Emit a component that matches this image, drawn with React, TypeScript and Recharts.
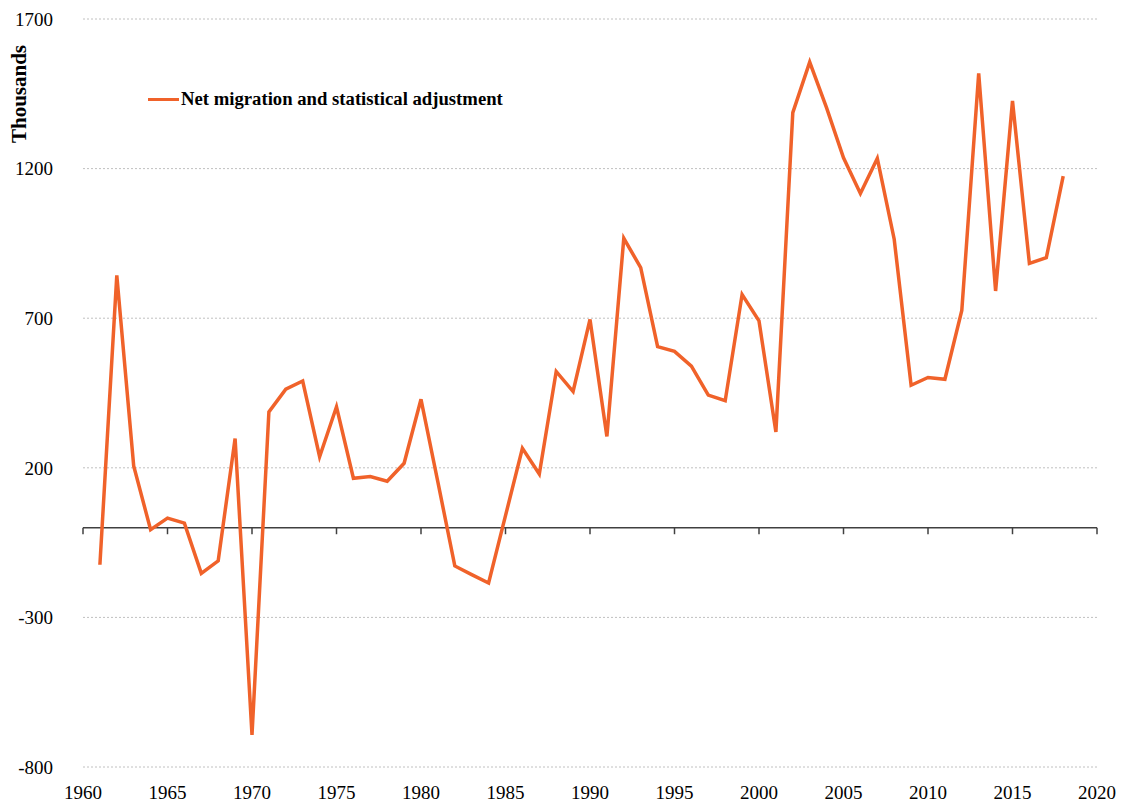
import { LineChart, Line, XAxis, YAxis, CartesianGrid, ReferenceLine } from "recharts";

const years = [
  1961, 1962, 1963, 1964, 1965, 1966, 1967, 1968, 1969, 1970,
  1971, 1972, 1973, 1974, 1975, 1976, 1977, 1978, 1979, 1980,
  1981, 1982, 1983, 1984, 1985, 1986, 1987, 1988, 1989, 1990,
  1991, 1992, 1993, 1994, 1995, 1996, 1997, 1998, 1999, 2000,
  2001, 2002, 2003, 2004, 2005, 2006, 2007, 2008, 2009, 2010,
  2011, 2012, 2013, 2014, 2015, 2016, 2017, 2018,
];

// thousands
const netMigration = [
  -124, 843, 206, -7, 32, 15, -153, -111, 298, -693,
  387, 463, 490, 237, 404, 165, 171, 155, 215, 429,
  152, -128, -157, -185, 40, 265, 179, 522, 455, 696,
  305, 967, 869, 605, 589, 540, 443, 424, 779, 691,
  320, 1387, 1556, 1403, 1236, 1117, 1234, 964, 476, 502,
  496, 726, 1518, 791, 1426, 883, 902, 1175,
];

const xTicks = [1960, 1965, 1970, 1975, 1980, 1985, 1990, 1995, 2000, 2005, 2010, 2015, 2020];
const yTicks = [-800, -300, 200, 700, 1200, 1700];

const seriesName = "Net migration and statistical adjustment";
const orange = "#f0622a";
const font = "'Liberation Serif', 'Times New Roman', serif";

const data = years.map((y, i) => ({ year: y, value: netMigration[i] }));

const App = () => {
  return (
    <div style={{ position: "absolute", left: 0, top: 0, width: 1127, height: 805, background: "#fff" }}>
      <LineChart
        width={1127}
        height={805}
        data={data}
        margin={{ top: 19, right: 30, left: 0, bottom: 8 }}
        style={{ fontFamily: font }}
      >
        <CartesianGrid vertical={false} stroke="#c0c0c0" strokeDasharray="2 2" />
        <XAxis
          dataKey="year"
          type="number"
          domain={[1960, 2020]}
          ticks={xTicks}
          axisLine={false}
          tickLine={false}
          tickMargin={13}
          height={30}
          tick={{ fontSize: 19, fill: "#000" }}
        />
        <YAxis
          domain={[-800, 1700]}
          ticks={yTicks}
          width={83}
          axisLine={false}
          tickLine={false}
          tickMargin={24}
          tick={{ fontSize: 19, fill: "#000" }}
        />
        <ReferenceLine y={0} stroke="#404040" strokeWidth={1.5} />
        {xTicks.map((t) => (
          <ReferenceLine
            key={`tk-${t}`}
            segment={[{ x: t, y: 0 }, { x: t, y: -22 }]}
            stroke="#404040"
            strokeWidth={1.5}
          />
        ))}
        <Line
          type="linear"
          dataKey="value"
          name={seriesName}
          stroke={orange}
          strokeWidth={3.5}
          dot={false}
          isAnimationActive={false}
        />
      </LineChart>
      <div
        style={{
          position: "absolute",
          left: 148,
          top: 88,
          display: "flex",
          alignItems: "center",
          fontFamily: font,
        }}
      >
        <div style={{ width: 31, height: 3, background: orange, marginRight: 2 }} />
        <span style={{ fontSize: 18.7, fontWeight: "bold", color: "#000" }}>{seriesName}</span>
      </div>
      <div
        style={{
          position: "absolute",
          left: 19,
          top: 94,
          transform: "translate(-50%, -50%) rotate(-90deg)",
          fontFamily: font,
          fontWeight: "bold",
          fontSize: 21,
          whiteSpace: "nowrap",
        }}
      >
        Thousands
      </div>
    </div>
  );
};

export default App;
